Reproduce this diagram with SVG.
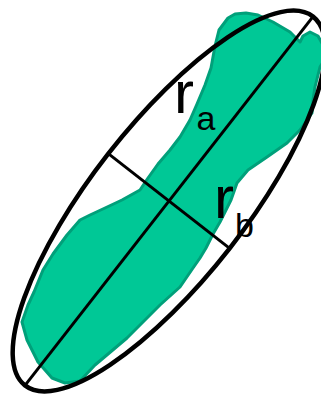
<svg xmlns="http://www.w3.org/2000/svg" width="321" height="397" viewBox="0 0 321 397">
<style>
.blob{fill:#00C896;stroke:#00A07A;stroke-width:3;stroke-linejoin:round}
.ell{fill:none;stroke:#000;stroke-width:4.5}
.ax{stroke:#000;stroke-width:3;fill:none}
.lbl{font-family:"Liberation Sans",Arial,sans-serif;fill:#000}
.big{font-size:60px}
.sub{font-size:34px}
</style>
<rect width="321" height="397" fill="#fff"/>
<g id="blob">
<path class="blob" d="M228,18 L235,14 L246,13 L258,15 L273,22 L290,32 L300,42 L303,36 L310,32 L318,36 L323,45 L323,62 L320,67 L315,87 L313,100 L312,113 L300,130 L287,143 L267,157 L248,170 L237,183 L231,200 L220,222 L213,234 L206,248 L200,258 L193,268 L180,287 L160,305 L127,338 L95,365 L80,381 L65,383 L52,378 L38,362 L27,340 L22,322 L28,305 L34,292 L43,270 L53,254 L67,235 L80,220 L90,215 L105,208 L122,200 L140,190 L148,178 L158,164 L170,150 L180,137 L190,120 L197,104 L205,85 L211,68 L215,46 L219,30 Z"/>
</g>
<g id="ellipse">
<ellipse class="ell" cx="169" cy="201" rx="234" ry="77" transform="rotate(-52 169 201)"/>
</g>
<g id="connectors">
<line class="ax" x1="313" y1="16.6" x2="25" y2="385.4"/>
<line class="ax" x1="108.3" y1="153.6" x2="229.7" y2="248.4"/>
</g>
<g id="label-ra">
<text class="lbl big" x="174" y="113">r</text>
<text class="lbl sub" x="196.5" y="130">a</text>
</g>
<g id="label-rb">
<text class="lbl big" x="214" y="218">r</text>
<text class="lbl sub" x="235" y="237">b</text>
</g>
</svg>
